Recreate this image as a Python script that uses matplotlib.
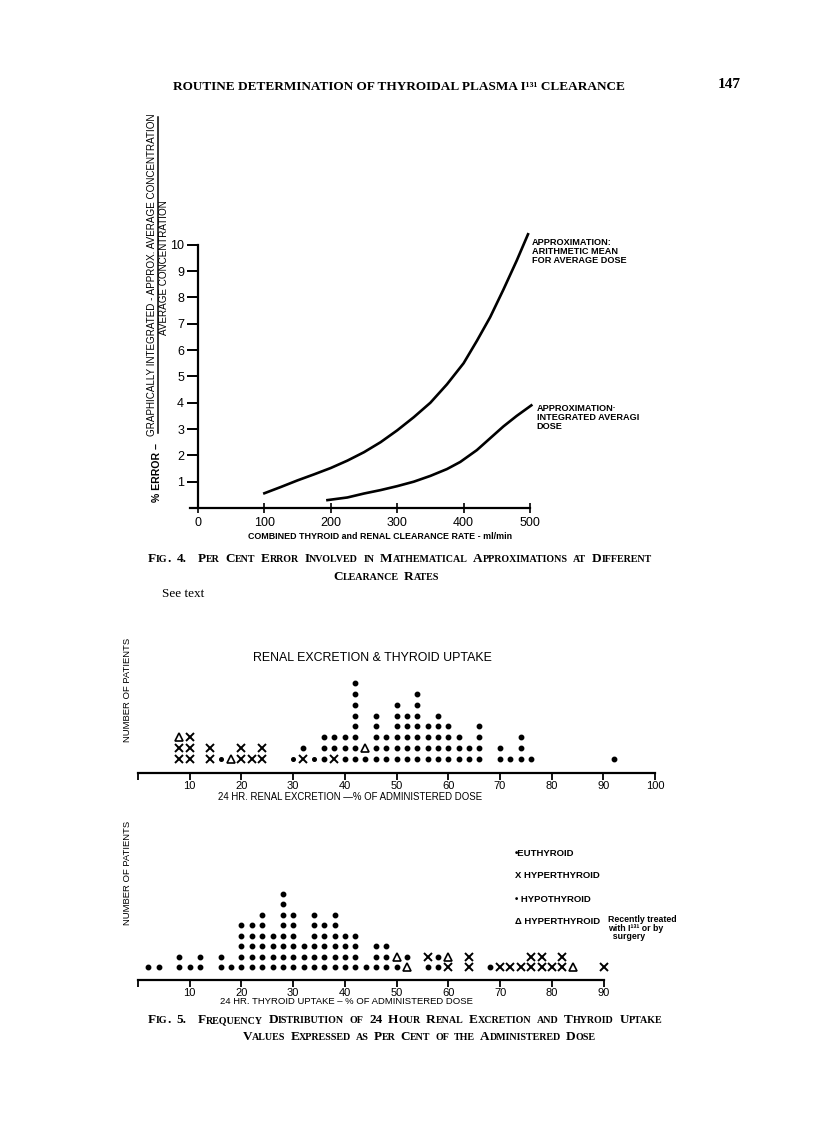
import matplotlib
matplotlib.use("Agg")
import matplotlib.pyplot as plt
from matplotlib.lines import Line2D
from matplotlib.offsetbox import TextArea, HPacker, AnnotationBbox

# Fig. 4 -- per cent error vs combined clearance rate
clearance_mean = [100, 125, 150, 175, 200, 225, 250, 275, 300, 325, 350, 375, 400,
                  420, 440, 460, 480, 497]
error_mean = [0.56, 0.8, 1.05, 1.28, 1.52, 1.8, 2.12, 2.5, 2.95, 3.45, 4.0, 4.7, 5.5,
              6.35, 7.25, 8.3, 9.4, 10.4]
clearance_integ = [195, 225, 250, 275, 300, 325, 350, 375, 395, 420, 440, 460, 480, 502]
error_integ = [0.3, 0.4, 0.55, 0.68, 0.83, 1.0, 1.22, 1.48, 1.75, 2.2, 2.65, 3.1, 3.5, 3.9]

# Fig. 5 -- one column per value, patients stacked from the axis upward
# o = euthyroid, h = hypothyroid, x = hyperthyroid, t = hyperthyroid recently treated
renal_x = [8, 10, 14, 16, 18, 20, 22, 24, 30, 32, 34, 36, 38, 40, 42, 44, 46, 48,
           50, 52, 54, 56, 58, 60, 62, 64, 66, 70, 72, 74, 76, 92]
renal_stack = ["xxt", "xxx", "xx", "h", "t", "xx", "x", "xx", "h", "xo", "h", "ooo",
               "xoo", "ooo", "oooooooo", "ot", "ooooo", "ooo", "oooooo", "ooooo",
               "ooooooo", "oooo", "ooooo", "oooo", "ooo", "oo", "oooo", "oo", "o",
               "ooo", "o", "o"]

uptake_x = [2, 4, 8, 10, 12, 16, 18, 20, 22, 24, 26, 28, 30, 32, 34, 36, 38, 40, 42,
            44, 46, 48, 50, 52, 56, 58, 60, 64, 68, 70, 72, 74, 76, 78, 80, 82, 84, 90]
uptake_stack = ["o", "o", "oo", "o", "oo", "oo", "o", "ooooo", "ooooo", "oooooo",
                "oooo", "oooooooo", "oooooo", "ooo", "oooooo", "ooooo", "oooooo",
                "oooo", "oooo", "o", "ooo", "ooo", "ot", "to", "ox", "oo", "xt",
                "xx", "o", "x", "x", "x", "xx", "xx", "x", "xx", "t", "x"]

renal_ticks = [0, 10, 20, 30, 40, 50, 60, 70, 80, 90, 100]
uptake_ticks = [0, 10, 20, 30, 40, 50, 60, 70, 80, 90]

W, H = 816, 1121
SANS = ["Liberation Sans", "DejaVu Sans"]
SERIF = ["Liberation Serif", "DejaVu Serif"]
plt.rcParams["font.family"] = SANS


def fx(x):
    return x / W


def fy(y):
    return 1 - y / H


def small_caps(fig, s, x, y, big, small, gap=4, align=0.0):
    # upper case letters at full size, lower case as small capitals
    words = []
    for word in s.split(" "):
        runs, cur, cur_small = [], "", None
        for ch in word:
            is_small = ch.islower()
            if cur and is_small != cur_small:
                runs.append((cur, cur_small))
                cur = ""
            cur += ch
            cur_small = is_small
        if cur:
            runs.append((cur, cur_small))
        areas = [TextArea(r.upper(), textprops=dict(fontsize=small if sm else big,
                                                    family=SERIF, weight="bold"))
                 for r, sm in runs]
        words.append(HPacker(children=areas, pad=0, sep=0, align="baseline"))
    box = HPacker(children=words, pad=0, sep=gap, align="baseline")
    ab = AnnotationBbox(box, (fx(x), fy(y)), xycoords="figure fraction",
                        box_alignment=(align, 0.5), frameon=False, pad=0)
    fig.add_artist(ab)


fig = plt.figure(figsize=(W / 100, H / 100), dpi=100)

# page header
fig.text(fx(173), fy(87), "ROUTINE DETERMINATION OF THYROIDAL PLASMA I¹³¹ CLEARANCE",
         family=SERIF, weight="bold", fontsize=9.5, va="center")
fig.text(fx(718), fy(85), "147", family=SERIF, weight="bold", fontsize=11, va="center")

# ---------------- Fig. 4 ----------------
ax1 = fig.add_axes([fx(190), fy(508), 340 / W, 279 / H])
ax1.plot(clearance_mean, error_mean, color="k", lw=1.9, clip_on=False)
ax1.plot(clearance_integ, error_integ, color="k", lw=1.9, clip_on=False)
ax1.set_xlim(-12, 500)
ax1.set_ylim(0, 10.6)
ax1.spines["top"].set_visible(False)
ax1.spines["right"].set_visible(False)
ax1.spines["left"].set_position(("data", 0))
ax1.spines["left"].set_bounds(0, 10)
ax1.spines["left"].set_linewidth(1.6)
ax1.spines["bottom"].set_linewidth(1.6)
ax1.set_yticks(range(1, 11))
ax1.set_xticks([0, 100, 200, 300, 400, 500])
ax1.tick_params(axis="y", direction="out", length=8, width=1.4, labelsize=9, pad=2)
ax1.tick_params(axis="x", direction="inout", length=7, width=1.2, labelsize=9, pad=3)
ax1.patch.set_alpha(0)

ax1.text(503, 10.25, "APPROXIMATION:\nARITHMETIC MEAN\nFOR AVERAGE DOSE", fontsize=6.6,
         va="top", ha="left", linespacing=1.0, weight="bold")
ax1.text(510, 3.95, "APPROXIMATION·\nINTEGRATED AVERAGI\nDOSE", fontsize=6.6,
         va="top", ha="left", linespacing=1.0, weight="bold")

# y label written as a fraction
fig.text(fx(152), fy(275), "GRAPHICALLY INTEGRATED - APPROX. AVERAGE CONCENTRATION",
         rotation=90, ha="center", va="center", fontsize=7.1)
fig.add_artist(Line2D([fx(158), fx(158)], [fy(433), fy(117)], color="k", lw=1.1,
                      transform=fig.transFigure))
fig.text(fx(164), fy(268), "AVERAGE CONCENTRATION", rotation=90, ha="center",
         va="center", fontsize=7.1)
fig.text(fx(157), fy(472), "% ERROR –", rotation=90, ha="center", va="center",
         fontsize=7.6, weight="bold")

fig.text(fx(248), fy(537), "COMBINED THYROID and RENAL CLEARANCE RATE - ml/min",
         fontsize=6.4, va="center", weight="bold")

small_caps(fig, "Fig. 4.  Per Cent Error Involved in Mathematical Approximations at Different",
           148, 559, 9.5, 7.2, gap=4.0)
small_caps(fig, "Clearance Rates", 386, 577, 9.5, 7.2, gap=4.0, align=0.5)
fig.text(fx(162), fy(594), "See text", family=SERIF, fontsize=9.5, va="center")

# ---------------- Fig. 5 ----------------
marker_style = {
    "o": dict(marker="o", ms=3.2, color="k"),
    "h": dict(marker="o", ms=2.6, color="k"),
    "x": dict(marker="x", ms=5.5, mew=1.4, color="k"),
    "t": dict(marker="^", ms=5.8, mew=1.2, mfc="none", color="k"),
}


def dot_plot(ax, xs, stacks, ticks):
    for x, stack in zip(xs, stacks):
        for k, kind in enumerate(stack):
            ax.plot([x], [k + 1.25], ls="none", clip_on=False, **marker_style[kind])
    for side in ["top", "right", "left"]:
        ax.spines[side].set_visible(False)
    ax.spines["bottom"].set_linewidth(1.6)
    ax.set_yticks([])
    ax.set_xticks(ticks)
    ax.set_xticklabels(["" if t == 0 else str(t) for t in ticks])
    ax.tick_params(axis="x", direction="out", length=5, width=1.3, labelsize=8, pad=1)
    ax.patch.set_alpha(0)


ax2 = fig.add_axes([fx(138), fy(773), 517 / W, 104 / H])
ax2.set_xlim(0, 100)
ax2.set_ylim(0, 9.5)
dot_plot(ax2, renal_x, renal_stack, renal_ticks)

ax3 = fig.add_axes([fx(138), fy(980), 465.6 / W, 99 / H])
ax3.set_xlim(0, 90)
ax3.set_ylim(0, 9.5)
dot_plot(ax3, uptake_x, uptake_stack, uptake_ticks)

fig.text(fx(127), fy(690), "NUMBER OF PATIENTS", rotation=90, ha="center", va="center",
         fontsize=6.8)
fig.text(fx(127), fy(873), "NUMBER OF PATIENTS", rotation=90, ha="center", va="center",
         fontsize=6.8)
fig.text(fx(253), fy(658), "RENAL EXCRETION & THYROID UPTAKE", fontsize=8.9, va="center")
fig.text(fx(218), fy(797), "24 HR. RENAL EXCRETION —% OF ADMINISTERED DOSE",
         fontsize=6.9, va="center")
fig.text(fx(220), fy(1002), "24 HR. THYROID UPTAKE – % OF ADMINISTERED DOSE",
         fontsize=6.8, va="center")

# legend
fig.text(fx(515), fy(853), "•EUTHYROID", fontsize=6.8, va="center", weight="bold")
fig.text(fx(515), fy(876), "X HYPERTHYROID", fontsize=6.8, va="center", weight="bold")
fig.text(fx(515), fy(899), "• HYPOTHYROID", fontsize=6.8, va="center", weight="bold")
fig.text(fx(515), fy(921), "Δ HYPERTHYROID", fontsize=6.8, va="center", weight="bold")
fig.text(fx(608), fy(915), "Recently treated\nwith I¹³¹ or by\n  surgery", fontsize=6.3,
         va="top", linespacing=0.95, weight="bold")

small_caps(fig, "Fig. 5.  Frequency Distribution of 24 Hour Renal Excretion and Thyroid Uptake",
           148, 1020, 9.5, 7.2, gap=4.0)
small_caps(fig, "Values Expressed as Per Cent of the Administered Dose", 419, 1037, 9.5, 7.2,
           gap=3.5, align=0.5)

fig.savefig("out.png", dpi=100)
